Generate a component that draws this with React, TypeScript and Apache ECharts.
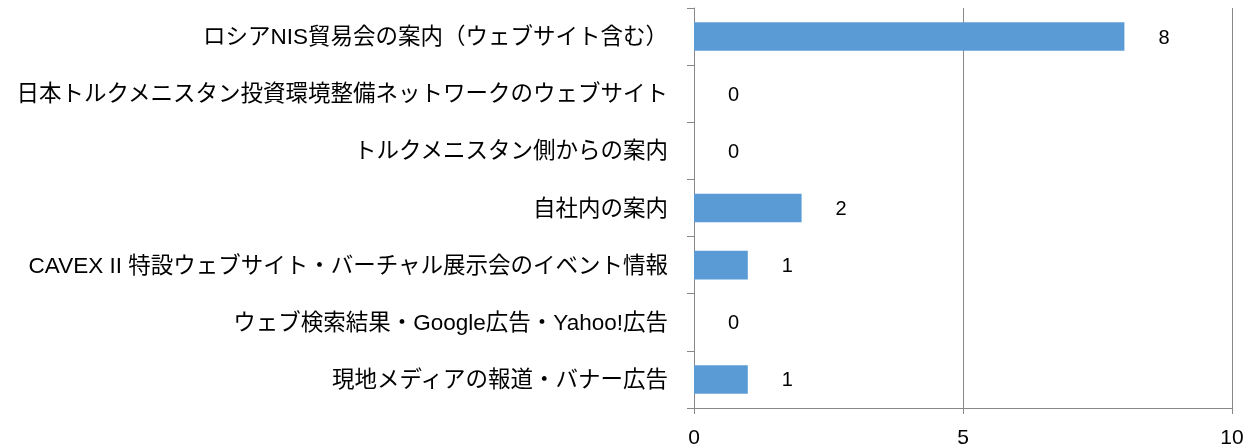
import React, { useEffect, useRef } from "react";
import * as echarts from "echarts";

const categories: string[] = [
  "ロシアNIS貿易会の案内（ウェブサイト含む）",
  "日本トルクメニスタン投資環境整備ネットワークのウェブサイト",
  "トルクメニスタン側からの案内",
  "自社内の案内",
  "CAVEX II 特設ウェブサイト・バーチャル展示会のイベント情報",
  "ウェブ検索結果・Google広告・Yahoo!広告",
  "現地メディアの報道・バナー広告",
];
const values: number[] = [8, 0, 0, 2, 1, 0, 1];
const xTicks = { min: 0, max: 10, interval: 5 };

const FONT = "'Liberation Sans', 'Noto Sans CJK JP', sans-serif";

export default function App() {
  const ref = useRef<HTMLDivElement>(null);
  useEffect(() => {
    if (!ref.current) return;
    const chart = echarts.init(ref.current, undefined, { renderer: "svg" });
    chart.setOption({
      animation: false,
      grid: { left: 694, right: 28, top: 8, bottom: 40, containLabel: false },
      xAxis: {
        type: "value",
        min: xTicks.min,
        max: xTicks.max,
        interval: xTicks.interval,
        axisLine: { show: true, lineStyle: { color: "#888888", width: 1 } },
        axisTick: { show: true, length: 6, lineStyle: { color: "#888888" } },
        splitLine: { show: true, lineStyle: { color: "#888888", width: 1 } },
        axisLabel: { color: "#000", fontSize: 21, fontFamily: FONT, margin: 18 },
      },
      yAxis: {
        type: "category",
        data: categories,
        inverse: true,
        axisLine: { show: true, lineStyle: { color: "#888888", width: 1 } },
        axisTick: { show: true, length: 7, lineStyle: { color: "#888888" } },
        axisLabel: { color: "#000", fontSize: 22.5, fontFamily: FONT, margin: 26 },
      },
      series: [
        {
          type: "bar",
          data: values,
          barWidth: "50%",
          itemStyle: { color: "#5B9BD5" },
          label: {
            show: true,
            position: "right",
            distance: 34,
            color: "#000",
            fontSize: 20,
            fontFamily: FONT,
          },
        },
      ],
    });
    return () => chart.dispose();
  }, []);
  return (
    <div
      ref={ref}
      style={{ position: "fixed", left: 0, top: 0, width: 1260, height: 448 }}
    />
  );
}
